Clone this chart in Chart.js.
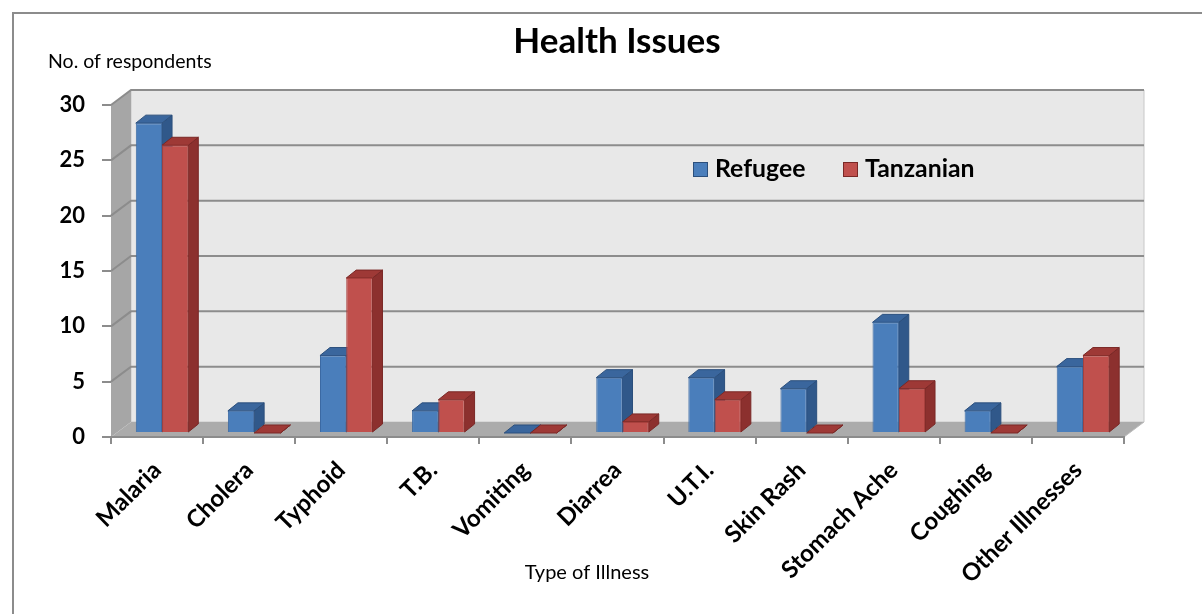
<!DOCTYPE html>
<html>
<head>
<meta charset="utf-8">
<script src="https://cdn.jsdelivr.net/npm/chart.js@4"></script>
<style>
  html, body { margin: 0; padding: 0; background: #fff; overflow: hidden; }
  #wrap { position: relative; width: 1202px; height: 614px; }
  #frame { position: absolute; left: 12px; top: 12px; width: 1300px; height: 700px;
           border-left: 2px solid #8c8c8c; border-top: 2px solid #8c8c8c; pointer-events: none; }
  canvas { position: absolute; left: 0; top: 0; }
</style>
</head>
<body>
<div id="wrap">
  <canvas id="chart" width="1202" height="614"></canvas>
  <div id="frame"></div>
</div>
<script>
const categories = ["Malaria", "Cholera", "Typhoid", "T.B.", "Vomiting", "Diarrea",
  "U.T.I.", "Skin Rash", "Stomach Ache", "Coughing", "Other Illnesses"];
const refugee = [28, 2, 7, 2, 0, 5, 5, 4, 10, 2, 6];
const tanzanian = [26, 0, 14, 3, 0, 1, 3, 0, 4, 0, 7];
const seriesNames = ["Refugee", "Tanzanian"];
const yMin = 0, yMax = 30, yStep = 5;

const FONT = "Lato, 'Open Sans', sans-serif";
const WALL = { dx: 20, dy: -15 };   // back wall offset
const SHIFT = { dx: 5, dy: -4 };    // bar row sits a bit behind the front axis
const DEPTH = { dx: 10, dy: -8 };   // bar thickness

function poly(ctx, pts, fill, stroke) {
  ctx.beginPath();
  ctx.moveTo(pts[0][0], pts[0][1]);
  for (let i = 1; i < pts.length; i++) ctx.lineTo(pts[i][0], pts[i][1]);
  ctx.closePath();
  if (fill) { ctx.fillStyle = fill; ctx.fill(); }
  if (stroke) { ctx.strokeStyle = stroke; ctx.stroke(); }
}

// walls + floor, drawn under the axes
const walls = {
  id: "walls",
  beforeDraw(chart) {
    const { ctx, chartArea: a, scales: { y } } = chart;
    const L = a.left, R = a.right, T = a.top, B = a.bottom;
    ctx.save();
    // back wall
    poly(ctx, [[L + WALL.dx, T + WALL.dy], [R + WALL.dx, T + WALL.dy],
               [R + WALL.dx, B + WALL.dy], [L + WALL.dx, B + WALL.dy]], "#e8e8e8", "#c8c8c8");
    // left wall
    poly(ctx, [[L, B], [L, T], [L + WALL.dx, T + WALL.dy], [L + WALL.dx, B + WALL.dy]], "#a6a6a6", null);
    // grid lines on back and left wall
    ctx.lineWidth = 2;
    ctx.strokeStyle = "#8c8c8c";
    for (let v = yMin + yStep; v <= yMax; v += yStep) {
      const py = y.getPixelForValue(v);
      ctx.beginPath();
      ctx.moveTo(L, py);
      ctx.lineTo(L + WALL.dx, py + WALL.dy);
      ctx.lineTo(R + WALL.dx, py + WALL.dy);
      ctx.stroke();
    }
    // floor
    poly(ctx, [[L, B], [R, B], [R + WALL.dx, B + WALL.dy], [L + WALL.dx, B + WALL.dy]], "#ababab", null);
    ctx.lineWidth = 1;
    ctx.strokeStyle = "#bdbdbd";
    ctx.beginPath();
    ctx.moveTo(R, B); ctx.lineTo(R + WALL.dx, B + WALL.dy);
    ctx.stroke();
    ctx.restore();
  }
};

// side and top faces of every bar; fronts come from Chart.js on top
const bars3d = {
  id: "bars3d",
  beforeDatasetsDraw(chart) {
    const { ctx } = chart;
    ctx.save();
    ctx.translate(SHIFT.dx, SHIFT.dy);
    chart.data.datasets.forEach((ds, i) => {
      const meta = chart.getDatasetMeta(i);
      meta.data.forEach((bar) => {
        const { x, y, base, width } = bar.getProps(["x", "y", "base", "width"], true);
        const l = x - width / 2, r = x + width / 2;
        ctx.lineWidth = 1;
        poly(ctx, [[r, y], [r + DEPTH.dx, y + DEPTH.dy], [r + DEPTH.dx, base + DEPTH.dy], [r, base]],
             ds.sideColor, ds.edgeColor);
        poly(ctx, [[l, y], [l + DEPTH.dx, y + DEPTH.dy], [r + DEPTH.dx, y + DEPTH.dy], [r, y]],
             ds.topColor, ds.edgeColor);
      });
    });
  },
  afterDatasetsDraw(chart) {
    chart.ctx.restore();
  }
};

const labels = {
  id: "labels",
  afterDraw(chart) {
    const { ctx } = chart;
    ctx.save();
    ctx.fillStyle = "#000";
    ctx.textBaseline = "middle";

    ctx.font = "bold 35px " + FONT;
    ctx.textAlign = "center";
    ctx.fillText("Health Issues", 617, 42);

    ctx.font = "19.5px " + FONT;
    ctx.textAlign = "left";
    ctx.fillText("No. of respondents", 48, 62);

    ctx.font = "20px " + FONT;
    ctx.textAlign = "center";
    ctx.fillText("Type of Illness", 587, 573);

    // legend
    const legendX = [693, 843];
    ctx.font = "bold 24.8px " + FONT;
    ctx.textAlign = "left";
    chart.data.datasets.forEach((ds, i) => {
      const lx = legendX[i], ly = 169.5;
      ctx.fillStyle = ds.backgroundColor;
      ctx.fillRect(lx, ly - 7.5, 15, 15);
      ctx.strokeStyle = ds.edgeColor;
      ctx.lineWidth = 1;
      ctx.strokeRect(lx + 0.5, ly - 7, 14, 14);
      ctx.fillStyle = "#000";
      ctx.fillText(ds.label, lx + 22, ly);
    });
    ctx.restore();
  }
};

new Chart(document.getElementById("chart"), {
  type: "bar",
  data: {
    labels: categories,
    datasets: [
      {
        label: seriesNames[0], data: refugee,
        backgroundColor: "#4a7ebb", borderColor: "#3c6aa3", borderWidth: 1,
        sideColor: "#30588a", topColor: "#3a669d", edgeColor: "#2b4f7c",
        categoryPercentage: 0.57, barPercentage: 1.0, clip: false
      },
      {
        label: seriesNames[1], data: tanzanian,
        backgroundColor: "#c0504d", borderColor: "#a8403d", borderWidth: 1,
        sideColor: "#8c302e", topColor: "#9e3936", edgeColor: "#7a2826",
        categoryPercentage: 0.57, barPercentage: 1.0, clip: false
      }
    ]
  },
  options: {
    responsive: false,
    animation: false,
    devicePixelRatio: 1,
    layout: { padding: { top: 105, right: 78, left: 0, bottom: 0 } },
    plugins: {
      legend: { display: false },
      title: { display: false },
      tooltip: { enabled: false }
    },
    scales: {
      x: {
        afterFit: (s) => { s.height = 177; },
        grid: { offset: true, drawOnChartArea: false, tickLength: 7, color: "#8c8c8c", lineWidth: 2 },
        border: { display: true, color: "#8c8c8c", width: 2 },
        ticks: {
          autoSkip: false, maxRotation: 45, minRotation: 45, padding: 12,
          color: "#000", font: { family: FONT, size: 24, weight: "bold" }
        }
      },
      y: {
        min: yMin, max: yMax,
        afterFit: (s) => { s.width = 111; },
        grid: { drawOnChartArea: false, tickLength: 9, color: "#8c8c8c", lineWidth: 2 },
        border: { display: false },
        ticks: {
          stepSize: yStep, padding: 17,
          color: "#000", font: { family: FONT, size: 22, weight: "bold" }
        }
      }
    }
  },
  plugins: [walls, bars3d, labels]
});
</script>
</body>
</html>
